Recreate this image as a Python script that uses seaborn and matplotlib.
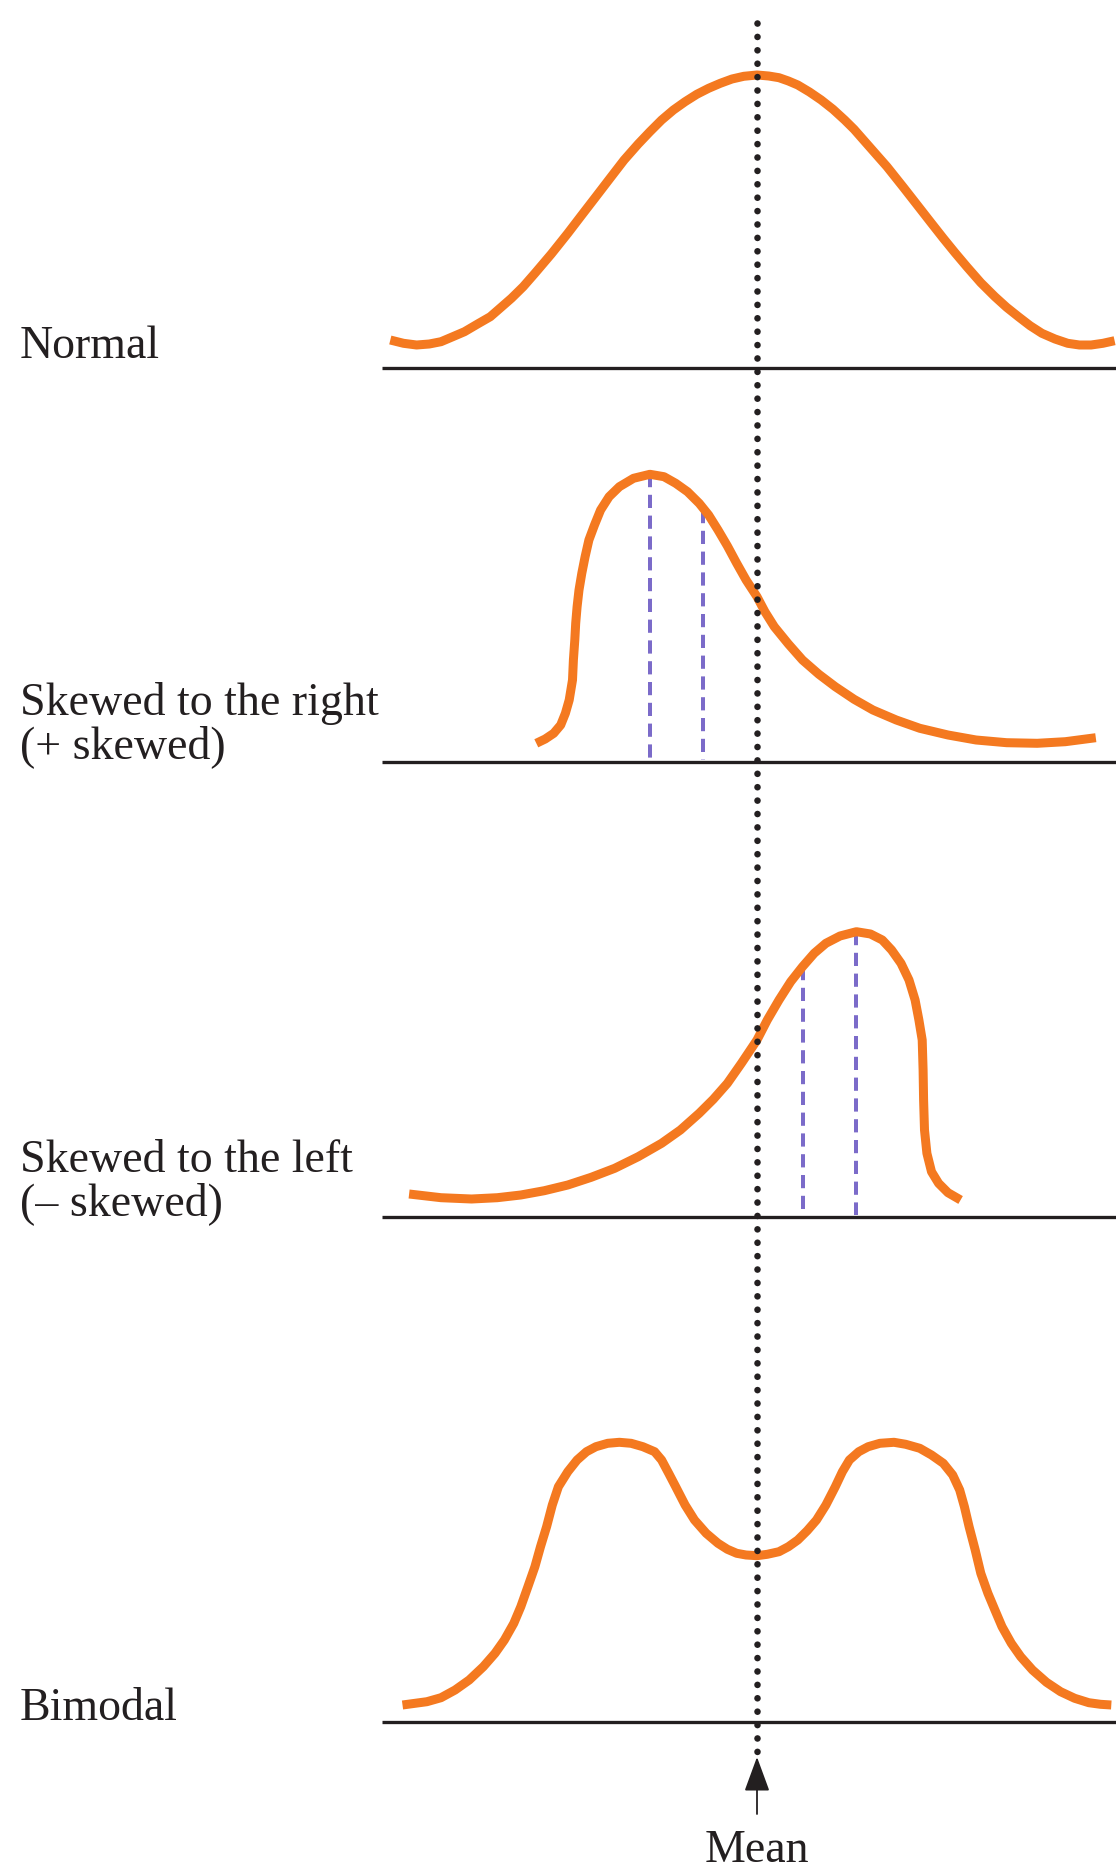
import numpy as np
import pandas as pd
import matplotlib
matplotlib.use("Agg")
import matplotlib.pyplot as plt
import seaborn as sns

# ---------------- data (x offset from the mean, height above each baseline) ----------------
normal_x = [-366.7, -353.5, -340.4, -327.7, -316.0, -304.2, -292.5, -279.4, -266.7, -255.9,
            -245.6, -233.8, -222.1, -205.7, -189.2, -175.2, -161.1, -147.0, -132.9, -118.8,
            -107.1, -95.4, -83.6, -71.9, -60.2, -48.4, -36.7, -25.0, -13.2, 0.0,
            11.7, 22.0, 31.4, 40.8, 52.5, 64.2, 76.0, 87.7, 97.1, 106.5,
            118.2, 130.0, 146.4, 162.8, 174.5, 186.3, 198.0, 209.8, 223.8, 237.9,
            249.6, 261.4, 273.1, 284.9, 298.0, 310.7, 322.4, 334.1, 345.9, 357.6]
normal_h = [28.0, 24.7, 23.0, 24.0, 26.3, 31.3, 36.3, 44.0, 51.3, 60.7,
            69.7, 81.3, 94.7, 114.0, 134.7, 153.0, 171.3, 189.7, 208.0, 224.0,
            236.3, 248.0, 258.0, 266.3, 273.7, 279.7, 284.7, 289.0, 291.7, 293.0,
            292.0, 290.3, 287.0, 283.0, 276.0, 268.0, 258.7, 248.0, 238.7, 228.0,
            214.7, 201.3, 180.7, 159.7, 144.7, 129.7, 115.3, 101.3, 85.3, 71.3,
            60.7, 51.3, 42.3, 34.7, 29.0, 24.7, 23.0, 23.0, 24.7, 27.3]

right_x = [-220.7, -211.8, -203.3, -196.3, -191.6, -187.8, -184.5, -183.6, -182.2, -181.3,
           -179.9, -178.0, -175.2, -171.9, -168.1, -162.5, -156.4, -147.9, -137.6, -123.5,
           -107.1, -93.0, -81.3, -69.5, -57.8, -48.4, -39.0, -29.6, -20.3, -10.9,
           0.0, 7.9, 17.3, 31.4, 45.5, 61.9, 78.3, 97.1, 115.9, 139.3,
           162.8, 191.0, 219.1, 249.6, 280.2, 308.3, 338.8]
right_h = [18.7, 23.0, 28.7, 37.0, 48.7, 62.0, 82.0, 102.0, 122.0, 138.7,
           155.3, 172.0, 188.7, 205.3, 222.0, 237.0, 252.0, 265.3, 275.3, 283.7,
           287.7, 285.3, 278.7, 270.3, 258.7, 247.0, 232.0, 216.0, 198.7, 182.0,
           165.3, 150.3, 135.3, 118.0, 102.0, 87.7, 75.3, 62.7, 52.0, 42.0,
           33.7, 27.0, 22.0, 19.3, 18.7, 20.3, 24.3]
right_marks_x = [-107, -54]      # mode, median
right_marks_h = [288, 252]

left_x = [-347.9, -316.0, -285.5, -259.7, -236.2, -212.7, -189.2, -165.8, -142.3, -118.8,
          -95.4, -76.6, -57.8, -43.7, -29.6, -15.6, 0.0, 10.3, 22.0, 33.7,
          45.5, 57.2, 68.9, 83.0, 99.4, 113.5, 125.3, 134.6, 144.0, 152.0,
          158.1, 161.9, 165.2, 166.1, 166.6, 167.5, 169.9, 174.5, 181.6, 191.0,
          203.6]
left_h = [23.0, 19.3, 18.0, 19.3, 22.0, 26.3, 32.0, 39.7, 48.7, 60.3,
          73.7, 87.0, 103.7, 117.7, 133.7, 153.7, 177.0, 197.0, 217.0, 235.3,
          250.3, 263.7, 273.7, 281.0, 285.3, 283.0, 277.0, 267.0, 253.7, 237.0,
          217.0, 197.0, 177.0, 147.0, 117.0, 87.0, 63.7, 45.3, 33.7, 24.3,
          17.0]
left_marks_x = [45.5, 98.5]      # median, mode
left_marks_h = [250, 285]

bimodal_x = [-354.5, -330.1, -316.0, -301.9, -287.8, -273.7, -262.0, -252.6, -243.2, -236.2,
             -229.1, -222.1, -216.5, -210.4, -204.7, -198.6, -189.2, -179.9, -170.5, -161.1,
             -149.3, -137.6, -125.9, -114.1, -102.4, -95.4, -88.3, -81.3, -71.9, -62.5,
             -50.8, -39.0, -29.6, -20.3, -10.9, 0.0, 10.3, 22.0, 31.4, 40.8,
             50.2, 59.5, 68.9, 78.3, 85.4, 92.4, 101.8, 111.2, 122.9, 137.0,
             148.7, 162.8, 174.5, 186.3, 195.7, 202.7, 207.4, 212.1, 218.2, 223.8,
             230.9, 237.9, 245.0, 254.3, 263.7, 275.5, 289.5, 303.6, 317.7, 331.8,
             343.5, 354.3]
bimodal_h = [17.0, 20.3, 24.3, 32.0, 42.0, 55.3, 68.7, 82.0, 98.7, 115.3,
             135.3, 155.3, 175.3, 195.3, 217.0, 235.3, 250.3, 262.0, 270.3, 275.3,
             278.7, 279.7, 278.7, 275.3, 270.3, 262.0, 248.7, 235.3, 217.0, 202.0,
             188.7, 178.7, 172.7, 168.7, 167.0, 166.3, 167.7, 170.3, 175.3, 182.0,
             191.3, 202.0, 217.0, 235.3, 250.3, 262.0, 270.3, 275.3, 278.7, 279.7,
             277.7, 273.7, 267.0, 258.7, 247.0, 232.0, 215.3, 195.3, 172.0, 148.7,
             128.7, 112.0, 95.3, 78.7, 65.3, 52.0, 39.7, 30.3, 23.7, 19.3,
             17.7, 17.0]

labels = ["Normal", "Skewed to the right\n(+ skewed)", "Skewed to the left\n(\u2013 skewed)", "Bimodal"]
mean_label = "Mean"

# ---------------- layout ----------------
W, H = 1116, 1869
MEAN_X = 757
baselines = [368, 762, 1217, 1722]
label_y = [358, 758, 1215, 1720]
ORANGE = "#F47920"
PURPLE = "#7B6BC9"
INK = "#231F20"

sns.set_theme(style="white")
plt.rcParams["font.family"] = ["Liberation Serif", "DejaVu Serif"]

fig = plt.figure(figsize=(W / 100, H / 100), dpi=100)
ax = fig.add_axes([0, 0, 1, 1])

px = 0.72  # points per pixel at dpi 100

curves = [(normal_x, normal_h), (right_x, right_h), (left_x, left_h), (bimodal_x, bimodal_h)]
marks = [None, (right_marks_x, right_marks_h), (left_marks_x, left_marks_h), None]

for i, ((cx, ch), base) in enumerate(zip(curves, baselines)):
    df = pd.DataFrame({"x": MEAN_X + np.array(cx, float), "y": base - np.array(ch, float)})
    # baseline
    ax.plot([382, W], [base, base], color=INK, lw=3.3 * px, solid_capstyle="butt", zorder=2)
    # purple dashed mode/median lines
    if marks[i] is not None:
        mx, mh = marks[i]
        for x0, h0 in zip(mx, mh):
            ax.plot([MEAN_X + x0, MEAN_X + x0], [base - h0, base - 2], color=PURPLE,
                    lw=4 * px, linestyle=(0, (3.3, 1.9)), dash_capstyle="butt", zorder=1)
    sns.lineplot(data=df, x="x", y="y", sort=False, estimator=None, ax=ax, color=ORANGE,
                 lw=9 * px, solid_capstyle="butt", solid_joinstyle="round", zorder=3, legend=False)
    ax.text(20, label_y[i], labels[i], fontsize=33, color=INK, ha="left", va="baseline",
            linespacing=1.0)

ax.set_xlim(0, W)
ax.set_ylim(H, 0)
ax.axis("off")

# mean dotted line
ax.plot([MEAN_X, MEAN_X], [23, 1756], color=INK, lw=6.6 * px, linestyle=(0, (0.01, 2.02)),
        dash_capstyle="round", zorder=5)
# arrow
ax.annotate("", xy=(MEAN_X, 1757), xytext=(MEAN_X, 1814),
            arrowprops=dict(arrowstyle="-|>,head_length=%.2f,head_width=%.2f" % (30 * px, 11 * px),
                            mutation_scale=1, color=INK, lw=1.8 * px, shrinkA=0, shrinkB=0),
            zorder=5)
ax.text(MEAN_X, 1862, mean_label, fontsize=33, color=INK, ha="center", va="baseline")

fig.savefig("out.png", dpi=100)
